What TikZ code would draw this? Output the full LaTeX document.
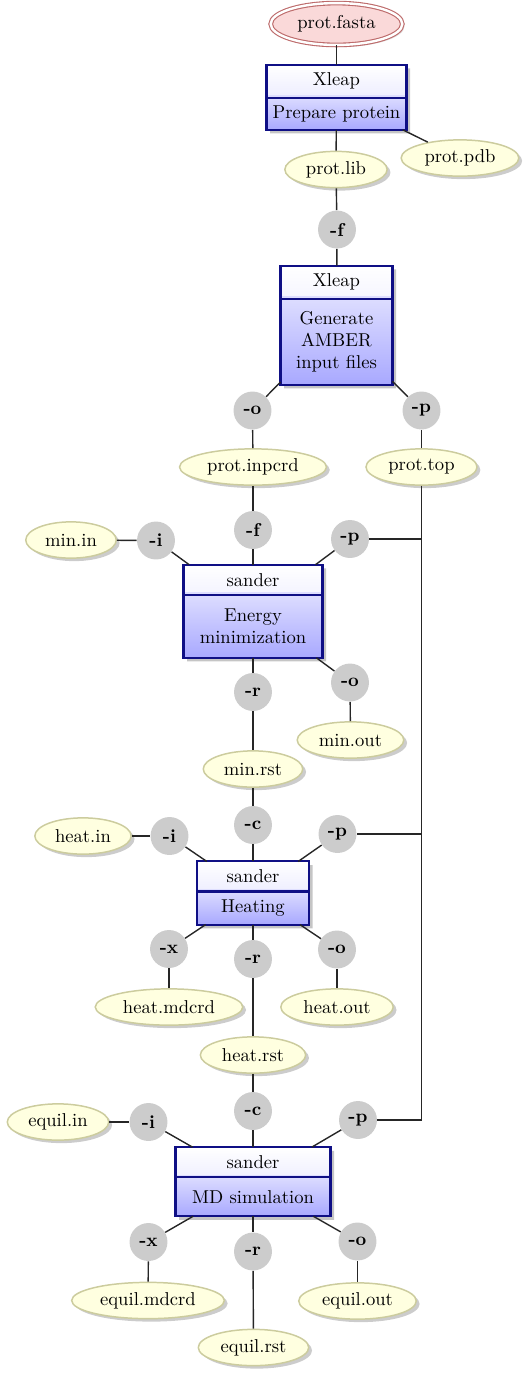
\documentclass[tikz,border=0pt]{standalone}
\usetikzlibrary{shapes.geometric,shapes.multipart,shadows}
\newlength\px
\setlength\px{0.5376pt}
\newcommand\bx[3]{\parbox[c][#2\px][c]{#1\px}{\centering #3}}
\definecolor{stageline}{rgb}{0.06,0.06,0.52}
\definecolor{fileline}{rgb}{0.80,0.80,0.62}
\definecolor{filefill}{rgb}{1.0,1.0,0.88}
\definecolor{srcline}{rgb}{0.74,0.42,0.42}
\definecolor{srcfill}{rgb}{0.98,0.85,0.85}
\tikzset{
  stage/.style={rectangle split, rectangle split parts=2, draw=stageline,
    line width=1.1pt, inner sep=0pt, outer sep=0pt,
    drop shadow={shadow xshift=2pt, shadow yshift=-2pt, fill=black!45, opacity=.5},
    path picture={
      \shade[top color=white, bottom color=blue!14]
        (path picture bounding box.north west) rectangle ([yshift=-#1\px]path picture bounding box.north east);
      \shade[top color=blue!13, bottom color=blue!34]
        ([yshift=-#1\px]path picture bounding box.north west) rectangle (path picture bounding box.south east);
    }},
  file/.style={ellipse, draw=fileline, line width=0.8pt, fill=filefill,
    inner xsep=3.3pt, inner ysep=0pt, minimum height=19.5pt,
    drop shadow={shadow xshift=1.8pt, shadow yshift=-1.6pt, fill=black!40, opacity=.5}},
  src/.style={ellipse, draw=srcline, double, double distance=1.3pt, line width=0.6pt,
    fill=srcfill, inner xsep=4pt, inner ysep=0pt, minimum height=22.5pt,
    drop shadow={shadow xshift=1.2pt, shadow yshift=-1.2pt, fill=black!30, opacity=.4}},
  opt/.style={circle, fill=black!20, minimum size=20.4pt, inner sep=0pt, font=\bfseries},
  link/.style={draw=black!85, line width=0.75pt}
}
\begin{document}
\begin{tikzpicture}[x=0.5376pt, y=-0.5376pt]
\useasboundingbox (0,0) rectangle (531,1384);

% nodes
\node[src]  (fasta) at (336.5,24) {prot.fasta};
\node[stage=31] (b1) at (336.5,97.2) {\bx{140}{31}{Xleap}\nodepart{two}\bx{140}{30}{Prepare protein}};
\node[file] (plib) at (336,169.5) {prot.lib};
\node[file] (ppdb) at (460,158) {prot.pdb};
\node[opt]  (f1) at (337,229.5) {-f};
\node[stage=31] (b2) at (336.5,325.2) {\bx{112}{31}{Xleap}\nodepart{two}\bx{112}{84}{Generate\\AMBER\\input files}};
\node[opt]  (o2) at (252.5,410.5) {-o};
\node[opt]  (p2) at (421.5,410.5) {-p};
\node[file] (pinp) at (253,467) {prot.inpcrd};
\node[file] (ptop) at (421.5,467) {prot.top};

\node[opt]  (f3) at (253,530) {-f};
\node[opt]  (i3) at (156,540.5) {-i};
\node[file] (minin) at (71,540) {min.in};
\node[opt]  (p3) at (350,539) {-p};
\node[stage=28] (b3) at (253,611.2) {\bx{139}{28}{sander}\nodepart{two}\bx{139}{61}{Energy\\minimization}};
\node[opt]  (r3) at (253,692) {-r};
\node[opt]  (o3) at (350,682.5) {-o};
\node[file] (minout) at (350.5,740) {min.out};
\node[file] (minrst) at (253,769) {min.rst};

\node[opt]  (c4) at (253,825) {-c};
\node[opt]  (i4) at (169.5,836) {-i};
\node[file] (heatin) at (83,836) {heat.in};
\node[opt]  (p4) at (337.5,834) {-p};
\node[stage=28] (b4) at (253,893) {\bx{112}{28}{sander}\nodepart{two}\bx{112}{31}{Heating}};
\node[opt]  (x4) at (169,949) {-x};
\node[opt]  (r4) at (253,959) {-r};
\node[opt]  (o4) at (337,949.5) {-o};
\node[file] (heatmd) at (169,1007) {heat.mdcrd};
\node[file] (heatout) at (337,1007) {heat.out};
\node[file] (heatrst) at (253,1055) {heat.rst};

\node[opt]  (c5) at (253,1111) {-c};
\node[opt]  (i5) at (148.5,1122) {-i};
\node[file] (equilin) at (58,1122) {equil.in};
\node[opt]  (p5) at (358,1120) {-p};
\node[stage=28] (b5) at (253,1181.7) {\bx{155}{28}{sander}\nodepart{two}\bx{155}{37}{MD simulation}};
\node[opt]  (x5) at (148.5,1242) {-x};
\node[opt]  (r5) at (253,1251.5) {-r};
\node[opt]  (o5) at (357.5,1241.5) {-o};
\node[file] (equilmd) at (148,1300.5) {equil.mdcrd};
\node[file] (equilout) at (357.5,1301) {equil.out};
\node[file] (equilrst) at (253.5,1347.5) {equil.rst};

% connectors
\path[link] (fasta) -- (b1);
\path[link] (b1) -- (plib);
\path[link] (b1) -- (ppdb);
\path[link] (plib) -- (f1);
\path[link] (f1) -- (b2);
\path[link] (b2) -- (o2);
\path[link] (b2) -- (p2);
\path[link] (o2) -- (pinp);
\path[link] (p2) -- (ptop);

\path[link] (pinp) -- (f3);
\path[link] (f3) -- (b3);
\path[link] (minin) -- (i3);
\path[link] (i3) -- (b3);
\path[link] (p3) -- (b3);
\path[link] (b3) -- (r3);
\path[link] (b3) -- (o3);
\path[link] (o3) -- (minout);
\path[link] (r3) -- (minrst);

\path[link] (minrst) -- (c4);
\path[link] (c4) -- (b4);
\path[link] (heatin) -- (i4);
\path[link] (i4) -- (b4);
\path[link] (p4) -- (b4);
\path[link] (b4) -- (x4);
\path[link] (b4) -- (r4);
\path[link] (b4) -- (o4);
\path[link] (x4) -- (heatmd);
\path[link] (o4) -- (heatout);
\path[link] (r4) -- (heatrst);

\path[link] (heatrst) -- (c5);
\path[link] (c5) -- (b5);
\path[link] (equilin) -- (i5);
\path[link] (i5) -- (b5);
\path[link] (p5) -- (b5);
\path[link] (b5) -- (x5);
\path[link] (b5) -- (r5);
\path[link] (b5) -- (o5);
\path[link] (x5) -- (equilmd);
\path[link] (r5) -- (equilrst);
\path[link] (o5) -- (equilout);

\path[link] (ptop) |- (p3);
\path[link] (ptop) |- (p4);
\path[link] (ptop) |- (p5);
\end{tikzpicture}
\end{document}
